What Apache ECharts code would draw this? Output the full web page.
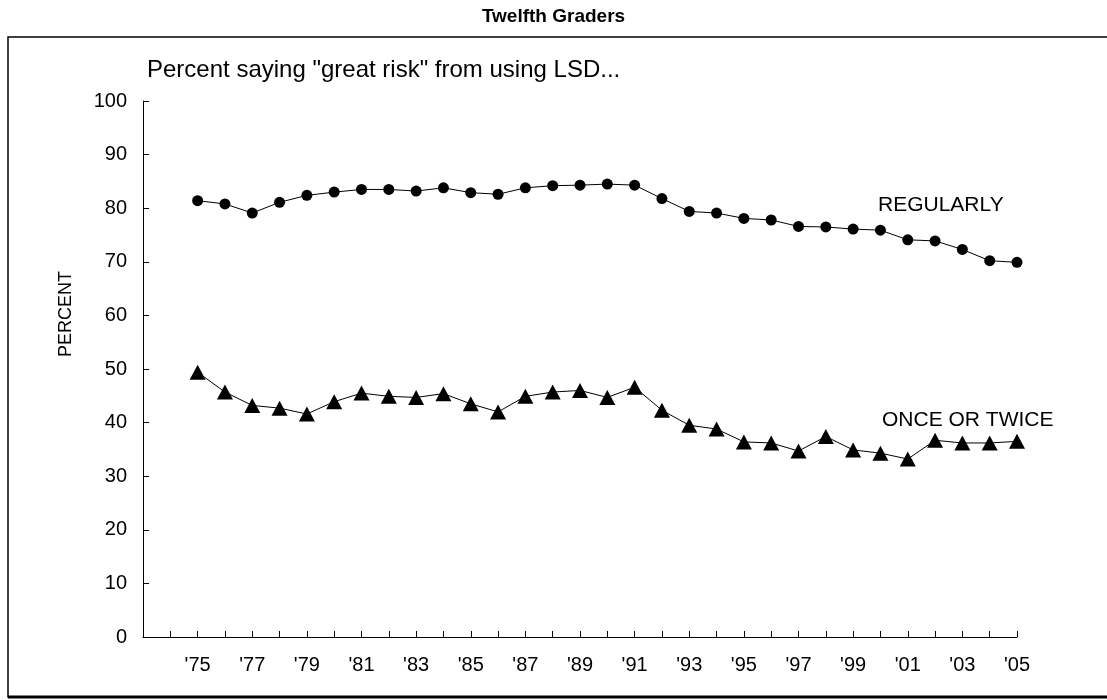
<!DOCTYPE html>
<html>
<head>
<meta charset="utf-8">
<script src="https://cdn.jsdelivr.net/npm/echarts@6/dist/echarts.min.js"></script>
<style>
html,body{margin:0;padding:0;background:#fff;}
#chart{width:1107px;height:700px;}
</style>
</head>
<body>
<div id="chart"></div>
<script>
const years = [1975,1976,1977,1978,1979,1980,1981,1982,1983,1984,1985,1986,1987,1988,1989,1990,1991,1992,1993,1994,1995,1996,1997,1998,1999,2000,2001,2002,2003,2004,2005];
const regularly = [81.4,80.8,79.1,81.1,82.4,83.0,83.5,83.5,83.2,83.8,82.9,82.6,83.8,84.2,84.3,84.5,84.3,81.8,79.4,79.1,78.1,77.8,76.6,76.5,76.1,75.9,74.1,73.9,72.3,70.2,69.9];
const onceOrTwice = [49.4,45.7,43.2,42.7,41.6,43.9,45.5,44.9,44.7,45.4,43.5,42.0,44.9,45.7,46.0,44.7,46.6,42.3,39.5,38.8,36.4,36.2,34.7,37.4,34.9,34.3,33.2,36.7,36.2,36.2,36.5];
const yTicks = [0,10,20,30,40,50,60,70,80,90,100];

const FONT = 'Liberation Sans, Arial, sans-serif';
const chart = echarts.init(document.getElementById('chart'), null, {renderer:'canvas'});
const pairs = arr => years.map((y,i)=>[y,arr[i]]);

chart.setOption({
  animation:false,
  backgroundColor:'#fff',
  title:{text:'Twelfth Graders', left:'center', top:2,
    textStyle:{fontFamily:FONT, fontWeight:'bold', fontSize:19, color:'#000'}},
  grid:{left:143, right:90, top:101, bottom:63, containLabel:false},
  xAxis:{type:'value', min:1973, max:2005, interval:1,
    axisLine:{lineStyle:{color:'#000', width:1}},
    axisTick:{inside:true, length:6, lineStyle:{color:'#000'}},
    splitLine:{show:false},
    axisLabel:{fontFamily:FONT, fontSize:20, color:'#000', margin:18,
      formatter:v=>{ if(v>=1975 && (v-1975)%2===0){ return "'"+String(v).slice(2);} return ''; }}
  },
  yAxis:{type:'value', min:0, max:100, interval:10,
    axisLine:{show:true, lineStyle:{color:'#000', width:1}},
    axisTick:{show:true, inside:true, length:6, lineStyle:{color:'#000'}},
    splitLine:{show:false},
    axisLabel:{fontFamily:FONT, fontSize:20, color:'#000', margin:16,
      formatter:v=>yTicks.includes(v)?String(v):''}
  },
  series:[
    {name:'REGULARLY', type:'line', data:pairs(regularly), symbol:'circle', symbolSize:11,
      lineStyle:{color:'#000', width:1}, itemStyle:{color:'#000'}},
    {name:'ONCE OR TWICE', type:'line', data:pairs(onceOrTwice), symbol:'triangle', symbolSize:[16,15],
      lineStyle:{color:'#000', width:1}, itemStyle:{color:'#000'}}
  ],
  graphic:[
    {type:'rect', shape:{x:8, y:37, width:1110, height:660}, style:{fill:null, stroke:'#000', lineWidth:1.5}, silent:true},
    {type:'line', shape:{x1:8, y1:697, x2:1107, y2:697}, style:{stroke:'#000', lineWidth:3}, silent:true},
    {type:'text', x:66, y:314, rotation:Math.PI/2, style:{text:'PERCENT', font:'18px '+FONT, fill:'#000', align:'center', verticalAlign:'middle'}},
    {type:'text', x:147, y:70, style:{text:'Percent saying "great risk" from using LSD...', font:'24px '+FONT, fill:'#000', verticalAlign:'middle'}},
    {type:'text', x:878, y:205, style:{text:'REGULARLY', font:'21px '+FONT, fill:'#000', verticalAlign:'middle'}},
    {type:'text', x:882, y:420, style:{text:'ONCE OR TWICE', font:'21px '+FONT, fill:'#000', verticalAlign:'middle'}}
  ]
});
</script>
</body>
</html>
